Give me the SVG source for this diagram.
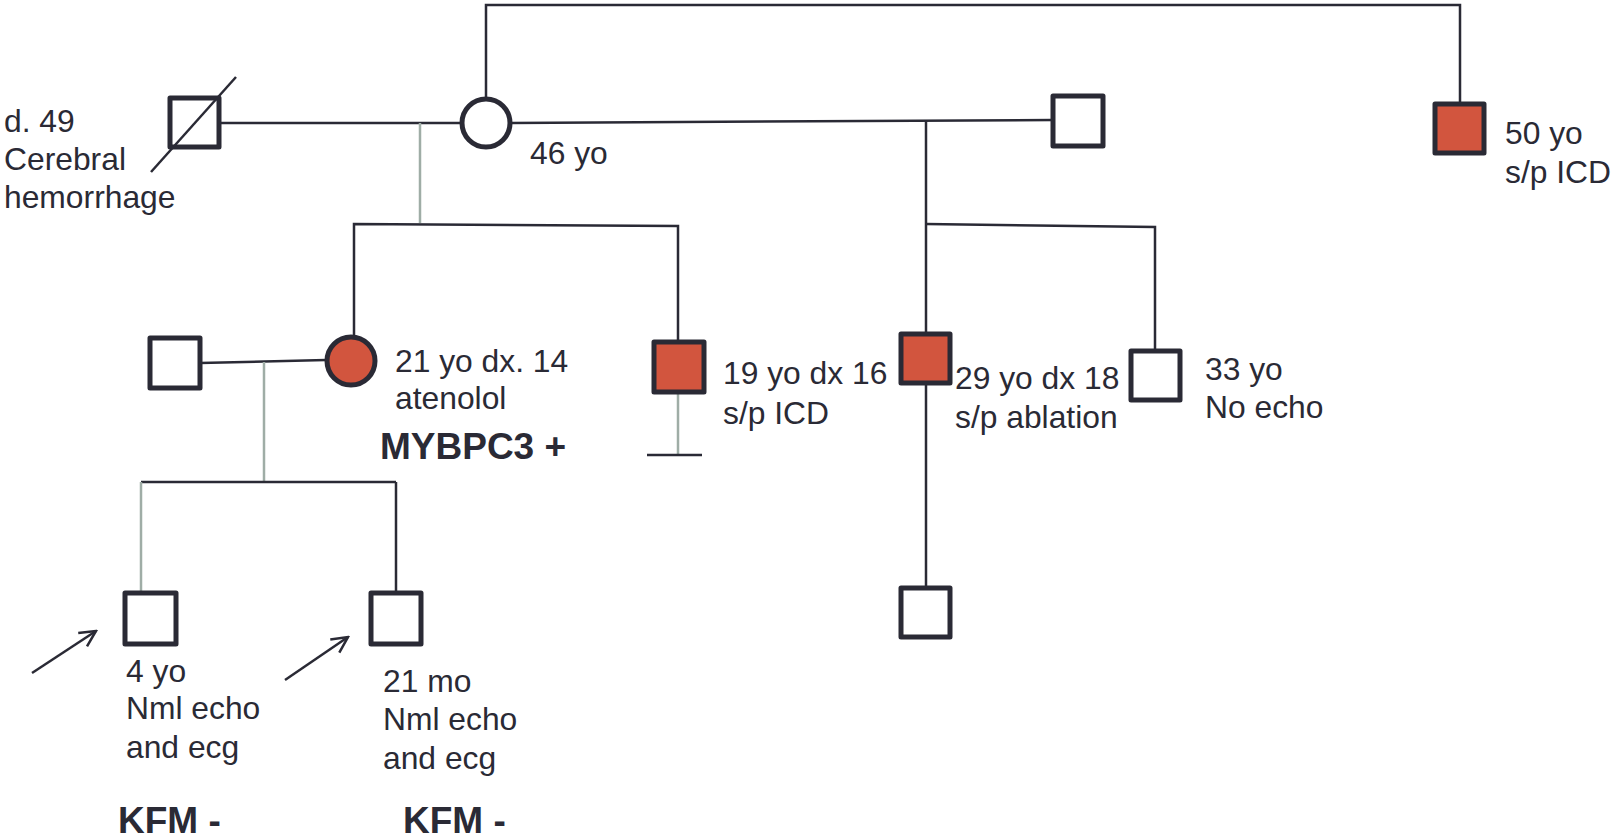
<svg xmlns="http://www.w3.org/2000/svg" width="1612" height="839" viewBox="0 0 1612 839">
<defs>
<style>
.n{fill:#fff;stroke:#2a2a35;stroke-width:5;stroke-linejoin:round}
.a{fill:#d2553e}
.c{fill:none;stroke:#2a2a35;stroke-width:2.5}
.g{fill:none;stroke:#9fada6;stroke-width:2.5}
.t{font-family:"Liberation Sans",Arial,sans-serif;font-size:31.8px;fill:#2a2a35}
.b{font-family:"Liberation Sans",Arial,sans-serif;font-size:37px;font-weight:bold;fill:#2a2a35}
</style>
<marker id="ar" viewBox="0 0 20 20" refX="18" refY="10" markerWidth="20" markerHeight="20" markerUnits="userSpaceOnUse" orient="auto">
<path d="M2,2 L18,10 L2,18" fill="none" stroke="#2a2a35" stroke-width="2.5"/>
</marker>
</defs>
<rect width="1612" height="839" fill="#fff"/>
<g id="connectors">
<polyline class="c" points="486,98 486,5 1460,5 1460,104"/>
<line class="c" x1="219" y1="123" x2="461" y2="123"/>
<line class="g" x1="420" y1="123" x2="420" y2="223"/>
<polyline class="c" points="354,336 354,224 678,226 678,342"/>
<line class="c" x1="511" y1="123" x2="1053" y2="120"/>
<line class="c" x1="926" y1="121" x2="926" y2="334"/>
<polyline class="c" points="926,224 1155,227 1155,351"/>
<line class="c" x1="926" y1="383" x2="926" y2="588"/>
<line class="g" x1="678" y1="393" x2="678" y2="455"/>
<line class="c" x1="647" y1="455" x2="702" y2="455"/>
<line class="c" x1="200" y1="363" x2="326" y2="360"/>
<line class="g" x1="264" y1="362" x2="264" y2="481"/>
<line class="c" x1="141" y1="482" x2="396" y2="482"/>
<line class="g" x1="141" y1="482" x2="141" y2="593"/>
<line class="c" x1="396" y1="482" x2="396" y2="593"/>
<line class="c" x1="32" y1="673" x2="96" y2="631" marker-end="url(#ar)"/>
<line class="c" x1="285" y1="680" x2="348" y2="637" marker-end="url(#ar)"/>
</g>
<g id="grandfather">
<rect class="n" x="170" y="98" width="49" height="49"/>
<line class="c" x1="151" y1="172" x2="236" y2="77"/>
<text class="t" x="4" y="132">d. 49</text>
<text class="t" x="4" y="170">Cerebral</text>
<text class="t" x="4" y="208">hemorrhage</text>
</g>
<g id="grandmother">
<circle class="n" cx="486" cy="123" r="24"/>
<text class="t" x="530" y="164">46 yo</text>
</g>
<g id="husband2">
<rect class="n" x="1053" y="96" width="50" height="50"/>
</g>
<g id="uncle">
<rect class="n a" x="1435" y="104" width="49" height="49"/>
<text class="t" x="1505" y="144">50 yo</text>
<text class="t" x="1505" y="183">s/p ICD</text>
</g>
<g id="mother">
<circle class="n a" cx="351" cy="361" r="24"/>
<text class="t" x="395" y="372">21 yo dx. 14</text>
<text class="t" x="395" y="409">atenolol</text>
<text class="b" x="380" y="459">MYBPC3 +</text>
</g>
<g id="brother19">
<rect class="n a" x="654" y="342" width="50" height="50"/>
<text class="t" x="723" y="384">19 yo dx 16</text>
<text class="t" x="723" y="424">s/p ICD</text>
</g>
<g id="brother29">
<rect class="n a" x="901" y="334" width="49" height="49"/>
<text class="t" x="955" y="389">29 yo dx 18</text>
<text class="t" x="955" y="428">s/p ablation</text>
</g>
<g id="brother33">
<rect class="n" x="1131" y="351" width="49" height="49"/>
<text class="t" x="1205" y="380">33 yo</text>
<text class="t" x="1205" y="418">No echo</text>
</g>
<g id="nephew">
<rect class="n" x="901" y="588" width="49" height="49"/>
</g>
<g id="father">
<rect class="n" x="150" y="338" width="50" height="50"/>
</g>
<g id="child1">
<rect class="n" x="125" y="593" width="51" height="51"/>
<text class="t" x="126" y="682">4 yo</text>
<text class="t" x="126" y="719">Nml echo</text>
<text class="t" x="126" y="758">and ecg</text>
<text class="b" x="118" y="833">KFM -</text>
</g>
<g id="child2">
<rect class="n" x="371" y="593" width="50" height="51"/>
<text class="t" x="383" y="692">21 mo</text>
<text class="t" x="383" y="730">Nml echo</text>
<text class="t" x="383" y="769">and ecg</text>
<text class="b" x="403" y="833">KFM -</text>
</g>
</svg>
